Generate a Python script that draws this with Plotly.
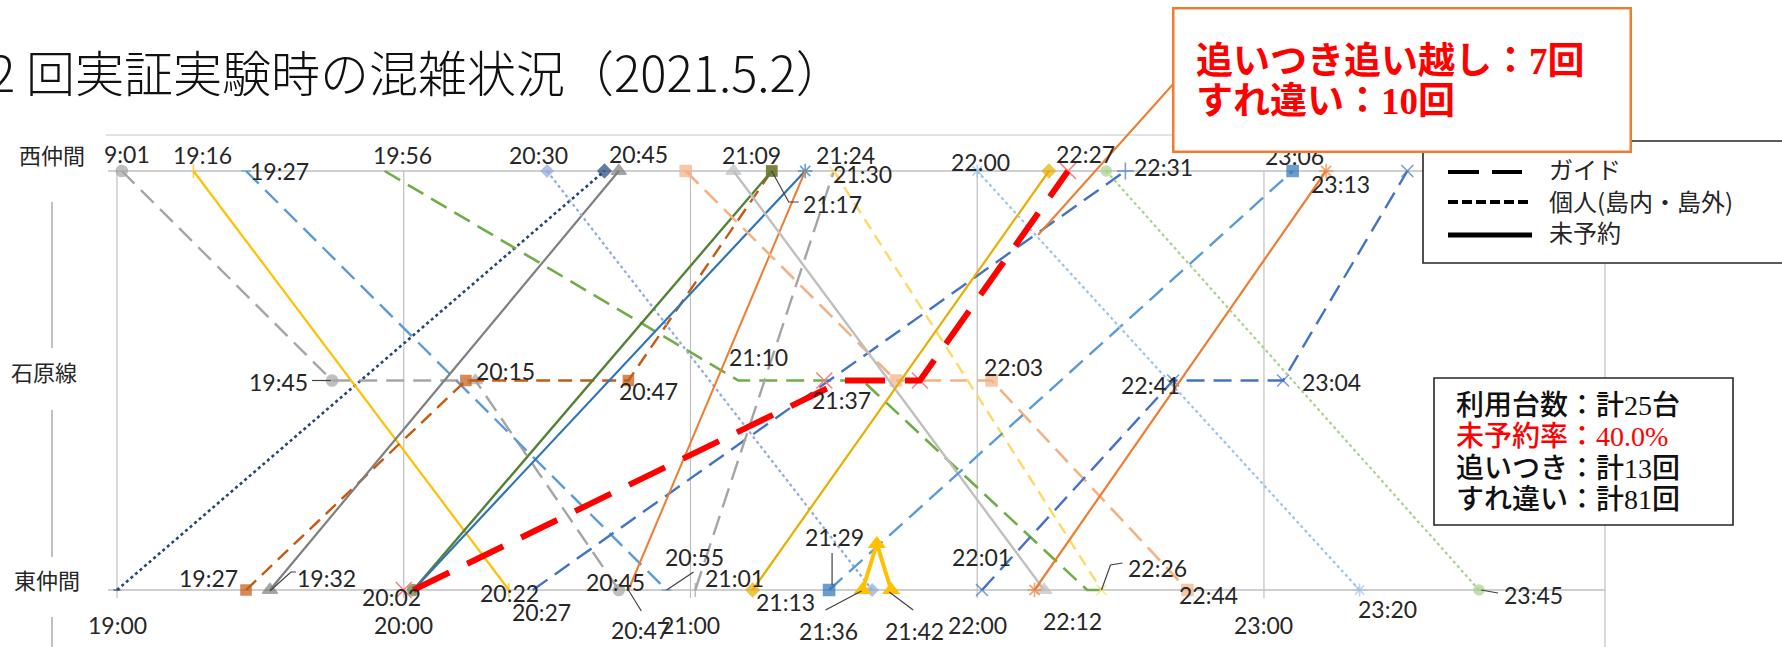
import plotly.graph_objects as go

W, H = 1782, 647

# ---------------- data ----------------
STATIONS = ["東仲間", "石原線", "西仲間"]          # stop levels 0 / 1 / 2
AXIS_TICKS = ["19:00", "20:00", "21:00", "22:00", "23:00"]

# each run: clock time at each stop, and the stop level
T01_TIME = ["19:00", "20:42"];                    T01_STOP = [0, 2]
T02_TIME = ["19:01", "19:45", "20:15", "20:45"];  T02_STOP = [2, 1, 1, 0]
T03_TIME = ["19:16", "20:22"];                    T03_STOP = [2, 0]
T04_TIME = ["19:27", "20:55"];                    T04_STOP = [2, 0]
T05_TIME = ["19:27", "20:13", "20:47", "21:17"];  T05_STOP = [0, 1, 1, 2]
T06_TIME = ["19:32", "20:45"];                    T06_STOP = [0, 2]
T07_TIME = ["19:56", "21:10", "21:36", "22:23", "22:26"]; T07_STOP = [2, 1, 1, 0, 0]
T08_TIME = ["20:30", "21:38"];                    T08_STOP = [2, 0]
T09_TIME = ["20:02", "21:17"];                    T09_STOP = [0, 2]
T10_TIME = ["20:02", "21:24"];                    T10_STOP = [0, 2]
T11_TIME = ["20:27", "22:31"];                    T11_STOP = [0, 2]
T12_TIME = ["20:47", "21:24"];                    T12_STOP = [0, 2]
T13_TIME = ["20:59", "21:43", "22:03", "22:44"];  T13_STOP = [2, 1, 1, 0]
T14_TIME = ["21:09", "22:14"];                    T14_STOP = [2, 0]
T15_TIME = ["21:01", "21:30"];                    T15_STOP = [0, 2]
T16_TIME = ["21:30", "22:26"];                    T16_STOP = [2, 0]
T17_TIME = ["21:13", "22:15"];                    T17_STOP = [0, 2]
T18_TIME = ["21:29", "23:06"];                    T18_STOP = [0, 2]
T19_TIME = ["21:36", "21:39", "21:42"];           T19_STOP = [0, 0.22, 0]
T20_TIME = ["22:00", "23:20"];                    T20_STOP = [2, 0]
T21_TIME = ["22:01", "22:41", "23:04", "23:30"];  T21_STOP = [0, 1, 1, 2]
T22_TIME = ["22:12", "23:13"];                    T22_STOP = [0, 2]
T23_TIME = ["22:27", "23:45"];                    T23_STOP = [2, 0]
T24_TIME = ["20:00", "21:28", "21:48", "22:19"];  T24_STOP = [0, 1, 1, 2]
# highlighted overtaking run
HL_TIME = ["20:02", "21:32", "21:48", "22:19"];   HL_STOP = [0, 1, 1, 2]

# time labels per stop row
TOP_LABEL_TEXT = ["9:01", "19:16", "19:27", "19:56", "20:30", "20:45", "21:09", "21:17",
                  "21:24", "21:30", "22:00", "22:27", "22:31", "23:06", "23:13"]
TOP_LABEL_AT = ["19:01", "19:16", "19:27", "19:56", "20:30", "20:45", "21:09", "21:17",
                "21:24", "21:30", "22:00", "22:27", "22:31", "23:06", "23:13"]
MID_LABELS = ["19:45", "20:15", "20:47", "21:10", "21:37", "22:03", "22:41", "23:04"]
BOTTOM_LABELS = ["19:27", "19:32", "20:02", "20:22", "20:27", "20:45", "20:47", "20:55",
                 "21:01", "21:13", "21:29", "21:36", "21:42", "22:01", "22:12", "22:26",
                 "22:44", "23:20", "23:45"]

LEGEND_TEXT = ["ガイド", "個人(島内・島外)", "未予約"]
SUMMARY_LINES = ["利用台数：計25台", "未予約率：40.0%", "追いつき：計13回", "すれ違い：計81回"]
CALLOUT_LINES = ["追いつき追い越し：7回", "すれ違い：10回"]
TITLE = "2 回実証実験時の混雑状況（2021.5.2）"

# ---------------- geometry ----------------
X0_PX = 117.0        # pixel column of 19:00
PX_PER_MIN = 4.779
Y0_PX = 590.0        # pixel row of stop level 0
PX_PER_LEVEL = 209.5


def tmin(s):
    h, m = s.split(":")
    return (int(h) - 19) * 60 + int(m)


def px_x(px):
    return px / W


def px_y(py):
    return 1 - py / H


def level_py(level):
    return Y0_PX - level * PX_PER_LEVEL


def time_px(s):
    return X0_PX + tmin(s) * PX_PER_MIN


LONG = "18px,9px"
MID = "10px,7px"

runs = [
    (T01_TIME, T01_STOP, "#264478", "dot", 2.6, ["line-ew-open", "diamond"], [5, 10], "#264478"),
    (T02_TIME, T02_STOP, "#A5A5A5", LONG, 2.4, ["circle", "circle", "triangle-up", "circle"], [11, 11, 12, 11], "#A5A5A5"),
    (T03_TIME, T03_STOP, "#FFC000", "solid", 2.2, ["line-ns-open"] * 2, [10, 10], "#FFC000"),
    (T04_TIME, T04_STOP, "#5B9BD5", LONG, 2.4, ["line-ew-open"] * 2, [7, 7], "#5B9BD5"),
    (T05_TIME, T05_STOP, "#C55A11", "14px,8px", 2.4, ["square"] * 4, [10] * 4, "#C55A11"),
    (T06_TIME, T06_STOP, "#7F7F7F", "solid", 2.2, ["triangle-up"] * 2, [13, 13], "#7F7F7F"),
    (T07_TIME, T07_STOP, "#70AD47", LONG, 2.6, ["circle"] * 5, [0] * 5, "#70AD47"),
    (T08_TIME, T08_STOP, "#8FAADC", "dot", 2.2, ["diamond"] * 2, [9, 9], "#8FAADC"),
    (T09_TIME, T09_STOP, "#548235", "solid", 2.4, ["circle", "square"], [11, 10], "#548235"),
    (T10_TIME, T10_STOP, "#2E75B6", "solid", 2.2, ["circle", "asterisk-open"], [0, 12], "#2E75B6"),
    (T11_TIME, T11_STOP, "#4472C4", LONG, 2.4, ["circle", "cross-thin-open"], [0, 12], "#4472C4"),
    (T12_TIME, T12_STOP, "#ED7D31", "solid", 2.0, ["circle"] * 2, [0, 0], "#ED7D31"),
    (T13_TIME, T13_STOP, "#F4B183", LONG, 2.6, ["square"] * 4, [11] * 4, "#F4B183"),
    (T14_TIME, T14_STOP, "#BFBFBF", "solid", 2.4, ["triangle-up"] * 2, [13, 13], "#BFBFBF"),
    (T15_TIME, T15_STOP, "#A5A5A5", "20px,9px", 2.4, ["line-ns-open", "circle"], [10, 0], "#A5A5A5"),
    (T16_TIME, T16_STOP, "#FFD966", "12px,7px", 2.4, ["x-thin-open"] * 2, [10, 10], "#FFD966"),
    (T17_TIME, T17_STOP, "#E8AE00", "solid", 2.2, ["diamond"] * 2, [10, 10], "#E8AE00"),
    (T18_TIME, T18_STOP, "#5B9BD5", LONG, 2.4, ["square"] * 2, [11, 11], "#2E75B6"),
    (T20_TIME, T20_STOP, "#9DC3E6", "dot", 2.2, ["asterisk-open"] * 2, [11, 11], "#9DC3E6"),
    (T21_TIME, T21_STOP, "#4472C4", LONG, 2.4, ["x-thin-open"] * 4, [12] * 4, "#4472C4"),
    (T22_TIME, T22_STOP, "#ED7D31", "solid", 2.2, ["asterisk-open"] * 2, [12, 12], "#ED7D31"),
    (T23_TIME, T23_STOP, "#A9D18E", "dot", 2.2, ["circle"] * 2, [10, 10], "#A9D18E"),
]

fig = go.Figure()

for times, stops, color, dash, width, symbols, sizes, mcolor in runs:
    fig.add_trace(go.Scatter(
        x=[tmin(t) for t in times], y=stops, mode="lines+markers",
        line=dict(color=color, width=width, dash=dash),
        marker=dict(symbol=symbols, size=sizes, color=mcolor,
                    line=dict(width=1.6, color=mcolor)),
        hoverinfo="skip", showlegend=False))

# vehicle passed by the highlighted run
fig.add_trace(go.Scatter(
    x=[tmin(t) for t in T24_TIME], y=T24_STOP, mode="markers",
    marker=dict(symbol="x-thin-open", size=16, color="#FF7C80", line=dict(width=1.6, color="#FF7C80")),
    hoverinfo="skip", showlegend=False))

# highlighted overtaking run
fig.add_trace(go.Scatter(
    x=[tmin(t) for t in HL_TIME], y=HL_STOP, mode="lines",
    line=dict(color="#FF0000", width=6, dash="40px,20px"),
    hoverinfo="skip", showlegend=False))

# round trip returning to 東仲間
fig.add_trace(go.Scatter(
    x=[tmin(t) for t in T19_TIME], y=T19_STOP, mode="lines+markers",
    line=dict(color="#FFC000", width=4),
    marker=dict(symbol="triangle-up", size=16, color="#FFC000"),
    hoverinfo="skip", showlegend=False))

# ---------------- shapes ----------------
shapes = []
GRID = "#BFBFBF"

# vertical hour grid
for t in AXIS_TICKS:
    shapes.append(dict(type="line", xref="x", yref="paper", x0=tmin(t), x1=tmin(t),
                       y0=px_y(level_py(2)), y1=px_y(598), line=dict(color=GRID, width=1.2), layer="below"))
# stop rows for 西仲間 and 東仲間
for lv in (2, 0):
    shapes.append(dict(type="line", xref="paper", yref="paper", x0=px_x(108), x1=px_x(1605),
                       y0=px_y(level_py(lv)), y1=px_y(level_py(lv)), line=dict(color=GRID, width=1.6), layer="below"))
# plot frame (top and right)
shapes.append(dict(type="line", xref="paper", yref="paper", x0=px_x(106), x1=px_x(1605),
                   y0=px_y(135), y1=px_y(135), line=dict(color="#D9D9D9", width=1.4), layer="below"))
shapes.append(dict(type="line", xref="paper", yref="paper", x0=px_x(1605), x1=px_x(1605),
                   y0=px_y(135), y1=px_y(H), line=dict(color=GRID, width=1.2), layer="below"))
# left category axis, broken around its labels
for ya, yb in [(202, 348), (410, 557), (617, H)]:
    shapes.append(dict(type="line", xref="paper", yref="paper", x0=px_x(52), x1=px_x(52),
                       y0=px_y(ya), y1=px_y(yb), line=dict(color="#A6A6A6", width=1.4)))

# ---------------- labels ----------------
annotations = []
LABEL_FONT = dict(family="Lato, Roboto, sans-serif", size=23, color="#262626")

TOP_SHIFT = [(5, -17), (9.5, -16), (33, 0), (18, -16), (-9, -16), (20, -17), (18.5, -16), (61, 33),
             (40, -16), (29, 3), (3, -9), (-21, -17), (38, -4), (2, -15.5), (14, 13)]
MID_SHIFT = [(-54, 1.5), (30, -10), (20, 10.5), (20, -23.5), (-26, 19.5), (22, -13.5), (-23, 4.5), (48, 1.5)]
BOTTOM_SHIFT = [(-38, -12), (57, -12), (-22, 7), (1, 3), (9, 22), (-3, -8), (12, 40), (28, -33),
                (39, -12), (33, 12), (5, -53), (-34, 41), (23, 41), (-1, -33), (38, 31), (56, -22),
                (21, 5), (28, 19), (54, 5)]

rows = [(TOP_LABEL_TEXT, TOP_LABEL_AT, 2, TOP_SHIFT),
        (MID_LABELS, MID_LABELS, 1, MID_SHIFT),
        (BOTTOM_LABELS, BOTTOM_LABELS, 0, BOTTOM_SHIFT)]
for texts, ats, lv, shifts in rows:
    for text, at, (dx, dy) in zip(texts, ats, shifts):
        annotations.append(dict(x=tmin(at), y=lv, xref="x", yref="y", text=text, showarrow=False,
                                xanchor="center", yanchor="middle", xshift=dx, yshift=-dy, font=LABEL_FONT))

# leader lines: (label time, stop level, polyline offsets in px)
LEADERS = [
    ("19:45", 1, [(-20, 0), (-1, 0)]),
    ("21:17", 2, [(0, 0), (17, 31), (27, 31)]),
    ("19:32", 0, [(0, 1), (21, -18), (26, -18)]),
    ("20:47", 0, [(0, 0), (13, 21)]),
    ("20:55", 0, [(0, 0), (27, -18)]),
    ("21:29", 0, [(3, -37), (3, -5)]),
    ("21:36", 0, [(-37, 20), (-1, 1)]),
    ("21:42", 0, [(22, 20), (-2, 2)]),
    ("22:26", 0, [(0, 0), (9, -25), (21, -27)]),
    ("23:45", 0, [(2, 0), (19, 3)]),
]
for at, lv, pts in LEADERS:
    bx, by = time_px(at), level_py(lv)
    path = " ".join(("M" if i == 0 else "L") + f"{px_x(bx + ox):.5f},{px_y(by + oy):.5f}"
                    for i, (ox, oy) in enumerate(pts))
    shapes.append(dict(type="path", xref="paper", yref="paper", path=path,
                       line=dict(color="#404040", width=1.2)))

# hour tick labels
for t in AXIS_TICKS:
    annotations.append(dict(x=tmin(t), y=px_y(625), xref="x", yref="paper", text=t, showarrow=False,
                            xanchor="center", yanchor="middle", font=LABEL_FONT))

# stop names
STATION_X = [47, 44, 52]
STATION_SHIFT = [11, 9.5, 17]
for name, lv, sx, sy in zip(STATIONS, (0, 1, 2), STATION_X, STATION_SHIFT):
    annotations.append(dict(x=px_x(sx), y=lv, xref="paper", yref="y", text=name, showarrow=False,
                            xanchor="center", yanchor="middle", yshift=sy,
                            font=dict(family="Noto Sans CJK JP", size=22, color="#262626")))

# title
annotations.append(dict(x=px_x(-13), y=px_y(70), xref="paper", yref="paper", text=TITLE, showarrow=False,
                        xanchor="left", yanchor="middle",
                        font=dict(family="Noto Sans CJK JP Light, Noto Sans CJK JP", size=49,
                                  color="#111111", weight=300)))

# ---------------- legend box ----------------
shapes.append(dict(type="rect", xref="paper", yref="paper", x0=px_x(1423), x1=px_x(1800),
                   y0=px_y(141), y1=px_y(263), line=dict(color="#262626", width=1.6),
                   fillcolor="white", layer="above"))
shapes.append(dict(type="line", xref="paper", yref="paper", x0=px_x(1448), x1=px_x(1479),
                   y0=px_y(172), y1=px_y(172), line=dict(color="black", width=4), layer="above"))
shapes.append(dict(type="line", xref="paper", yref="paper", x0=px_x(1492), x1=px_x(1522),
                   y0=px_y(172), y1=px_y(172), line=dict(color="black", width=4), layer="above"))
shapes.append(dict(type="line", xref="paper", yref="paper", x0=px_x(1448), x1=px_x(1532),
                   y0=px_y(202), y1=px_y(202), line=dict(color="black", width=4, dash="10px,4px"), layer="above"))
shapes.append(dict(type="line", xref="paper", yref="paper", x0=px_x(1448), x1=px_x(1532),
                   y0=px_y(235), y1=px_y(235), line=dict(color="black", width=5), layer="above"))
for text, cy in zip(LEGEND_TEXT, (168, 200, 232)):
    annotations.append(dict(x=px_x(1547), y=px_y(cy), xref="paper", yref="paper", text=text, showarrow=False,
                            xanchor="left", yanchor="middle",
                            font=dict(family="Noto Sans CJK JP", size=24, color="#262626")))

# ---------------- summary box ----------------
shapes.append(dict(type="rect", xref="paper", yref="paper", x0=px_x(1434), x1=px_x(1733),
                   y0=px_y(378), y1=px_y(525), line=dict(color="#262626", width=1.6),
                   fillcolor="white", layer="above"))
SERIF = "font-family:'Liberation Serif', serif"


def serif_digits(s):
    out, buf = "", ""
    for ch in s:
        if ch.isdigit() or ch in ".%":
            buf += ch
        else:
            if buf:
                out += f"<span style=\"{SERIF}\">{buf}</span>"
                buf = ""
            out += ch
    if buf:
        out += f"<span style=\"{SERIF}\">{buf}</span>"
    return out


for i, (text, cy) in enumerate(zip(SUMMARY_LINES, (403, 434, 466, 497))):
    annotations.append(dict(x=px_x(1454), y=px_y(cy), xref="paper", yref="paper", text=serif_digits(text),
                            showarrow=False, xanchor="left", yanchor="middle",
                            font=dict(family="Noto Sans CJK JP", size=28,
                                      color="#FF0000" if i == 1 else "#111111", weight=500)))

# ---------------- callout ----------------
shapes.append(dict(type="line", xref="paper", yref="paper", x0=px_x(1038), x1=px_x(1175),
                   y0=px_y(235), y1=px_y(82), line=dict(color="#ED7D31", width=2), layer="above"))
annotations.append(dict(x=px_x(1172), y=px_y(7), xref="paper", yref="paper", text=" ", showarrow=False,
                        xanchor="left", yanchor="top", width=455, height=141,
                        bgcolor="white", bordercolor="#ED7D31", borderwidth=2.5, borderpad=0))
for text, cy in zip(CALLOUT_LINES, (58, 98)):
    annotations.append(dict(x=px_x(1194), y=px_y(cy), xref="paper", yref="paper", text=serif_digits(text),
                            showarrow=False, xanchor="left", yanchor="middle",
                            font=dict(family="Noto Sans CJK JP", size=37, color="#FF0000", weight=700)))

fig.update_layout(
    width=W, height=H, margin=dict(l=0, r=0, t=0, b=0),
    paper_bgcolor="white", plot_bgcolor="white", showlegend=False,
    xaxis=dict(range=[(0 - X0_PX) / PX_PER_MIN, (W - X0_PX) / PX_PER_MIN], visible=False, fixedrange=True),
    yaxis=dict(range=[(Y0_PX - H) / PX_PER_LEVEL, Y0_PX / PX_PER_LEVEL], visible=False, fixedrange=True),
    shapes=shapes, annotations=annotations,
)

fig.write_html("out.html")
